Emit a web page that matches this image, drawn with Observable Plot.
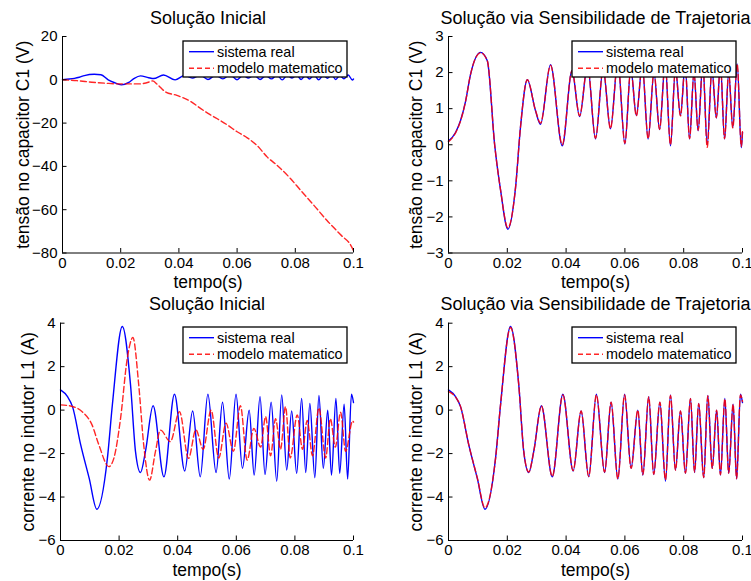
<!DOCTYPE html>
<html>
<head>
<meta charset="utf-8">
<script src="https://cdn.jsdelivr.net/npm/d3@7"></script>
<script src="https://cdn.jsdelivr.net/npm/@observablehq/plot@0.6"></script>
<style>
  html, body { margin: 0; padding: 0; background: white; }
  #fig { position: relative; width: 751px; height: 581px; background: white; overflow: hidden;
         font-family: "Liberation Sans", Arial, Helvetica, sans-serif; }
  #fig svg { position: absolute; }
</style>
</head>
<body>
<div id="fig"></div>
<script>
// ---------------- data ----------------
const xTicks = [0, 0.02, 0.04, 0.06, 0.08, 0.1];
const yTicksC1Ini = [20, 0, -20, -40, -60, -80];
const yTicksC1Traj = [3, 2, 1, 0, -1, -2, -3];
const yTicksL1 = [4, 2, 0, -2, -4, -6];

const titles = ["Solução Inicial", "Solução via Sensibilidade de Trajetoria", "Solução Inicial", "Solução via Sensibilidade de Trajetoria"];
const yLabels = ["tensão no capacitor C1 (V)", "tensão no capacitor C1 (V)", "corrente no indutor L1 (A)", "corrente no indutor L1 (A)"];
const xLabel = "tempo(s)";
const legendLabels = ["sistema real", "modelo matematico"];

// sistema real - tensão C1
const realC1_t = [0, 0.0024, 0.0041, 0.0058, 0.0075, 0.0109, 0.0132, 0.0157, 0.0177, 0.0202, 0.0228, 0.0245, 0.0268, 0.0296, 0.0313, 0.0347, 0.0387, 0.042, 0.0446, 0.0473, 0.05, 0.0526, 0.0551, 0.0576, 0.06, 0.062, 0.0639, 0.0659, 0.0679, 0.0699, 0.0718, 0.0737, 0.0755, 0.0772, 0.0789, 0.0805, 0.082, 0.0835, 0.0849, 0.0865, 0.088, 0.0896, 0.0911, 0.0925, 0.0939, 0.0953, 0.0967, 0.0982, 0.0996, 0.1];
const realC1_v = [0.1, 0.34, 0.67, 1.2, 1.95, 2.56, 2.33, 0, -1.25, -2.34, -1.19, 0.5, 1.8, 0.94, 0.57, 2.22, -0.03, 2.05, 0.78, 2.2, 0.16, 2.1, 0.44, 2.3, 0.02, 2.1, 0.81, 2.2, 0.16, 2.0, 0.42, 2.25, -0.03, 2.1, 0.81, 2.2, 0.16, 2.0, 0.39, 2.25, 0.0, 2.1, 0.74, 2.2, 0.16, 2.0, 0.48, 2.24, -0.08, 0.35];
// modelo (trajetória) - tensão C1
const modeloTrajC1_v = [0.08, 0.33, 0.66, 1.2, 1.95, 2.55, 2.33, 0, -1.25, -2.3, -1.19, 0.5, 1.8, 0.95, 0.6, 2.2, 0.0, 2.05, 0.8, 2.2, 0.18, 2.1, 0.45, 2.3, 0.04, 2.1, 0.8, 2.2, 0.17, 2.0, 0.43, 2.25, 0.0, 2.1, 0.8, 2.2, 0.17, 2.0, 0.4, 2.25, -0.07, 2.1, 0.75, 2.2, 0.17, 2.0, 0.47, 2.24, -0.05, 0.4];
// modelo inicial - tensão C1
const modeloIniC1_t = [0, 0.005, 0.0101, 0.015, 0.0198, 0.0263, 0.0303, 0.031, 0.0325, 0.0353, 0.0393, 0.0444, 0.0474, 0.05, 0.0532, 0.0566, 0.06, 0.0635, 0.0669, 0.0703, 0.0738, 0.0784, 0.0818, 0.0864, 0.0909, 0.0955, 0.0995, 0.1];
const modeloIniC1_v = [0, -0.4, -1.1, -1.6, -1.9, -1.9, -0.8, -0.5, -2.0, -5.5, -7.2, -10.3, -13.2, -15.5, -18, -20.8, -24, -26.8, -30.4, -35.6, -39.6, -45.7, -51, -58, -65, -71.5, -77.5, -79];

// sistema real - corrente L1
const realL1_t = [0, 0.0024, 0.0041, 0.0069, 0.0098, 0.0124, 0.016, 0.0177, 0.0211, 0.0239, 0.0256, 0.0273, 0.029, 0.0316, 0.0353, 0.0389, 0.0424, 0.0451, 0.0477, 0.0503, 0.0531, 0.0553, 0.0576, 0.0599, 0.0621, 0.0644, 0.0661, 0.0681, 0.0698, 0.0719, 0.0738, 0.0755, 0.0772, 0.0789, 0.0806, 0.0823, 0.0837, 0.0851, 0.0868, 0.0882, 0.0897, 0.0912, 0.0925, 0.094, 0.0953, 0.0968, 0.098, 0.0993, 0.1];
const realL1_v = [0.93, 0.62, 0.16, -1.6, -3.14, -4.56, -2.22, 0.24, 3.85, 1.16, -1.91, -2.87, -1.9, 0.2, -3.07, 0.73, -2.8, -0.04, -3.07, 0.73, -2.87, 0.36, -3.17, 0.73, -2.68, 0.0, -2.99, 0.62, -2.96, 0.36, -3.27, 0.7, -2.76, -0.04, -2.91, 0.54, -2.87, 0.31, -3.11, 0.67, -2.68, 0.0, -2.99, 0.54, -2.91, 0.27, -3.17, 0.73, 0.35];
// modelo (trajetória) - corrente L1
const modeloTrajL1_v = [0.85, 0.6, 0.16, -1.6, -3.12, -4.5, -2.22, 0.24, 3.8, 1.16, -1.9, -2.85, -1.9, 0.18, -3.05, 0.7, -2.78, -0.04, -3.05, 0.7, -2.85, 0.36, -3.15, 0.7, -2.68, 0.0, -2.97, 0.6, -2.95, 0.36, -3.2, 0.68, -2.76, -0.04, -2.9, 0.52, -2.85, 0.3, -3.1, 0.65, -2.68, 0.0, -2.97, 0.52, -2.9, 0.27, -3.15, 0.7, 0.4];
// modelo inicial - corrente L1
const modeloIniL1_t = [0, 0.0034, 0.0074, 0.0108, 0.0131, 0.0165, 0.0182, 0.0205, 0.0228, 0.0247, 0.0267, 0.0284, 0.0304, 0.0324, 0.0341, 0.0375, 0.0406, 0.0437, 0.0462, 0.0487, 0.0514, 0.054, 0.0565, 0.059, 0.0614, 0.0637, 0.066, 0.0683, 0.07, 0.0717, 0.0734, 0.0751, 0.0768, 0.0784, 0.0808, 0.0826, 0.0842, 0.086, 0.0882, 0.0905, 0.0921, 0.0938, 0.0956, 0.0973, 0.0997, 0.1];
const modeloIniL1_v = [0.24, 0.19, -0.07, -0.69, -1.6, -2.6, -2.22, -0.38, 2.39, 3.34, 1.16, -1.6, -3.22, -1.91, -0.92, -1.45, -0.07, -2.22, -0.9, -1.8, 0.0, -2.2, -0.6, -1.9, 0.2, -2.3, -0.84, -1.7, -0.3, -2.1, -0.4, -1.8, 0.16, -2.2, -0.22, -1.8, -0.47, -2.1, 0.1, -2.2, -0.4, -1.7, -0.1, -1.9, -0.5, -0.55];

// ---------------- helpers ----------------
const zip = (t, v) => t.map((d, i) => ({t: d, v: v[i]}));
const fmtY = d => d < 0 ? "\u2212" + Math.abs(d) : String(d);
const fmtX = d => String(d);

const panels = [
  {left: 0,   top: 0,   w: 375, h: 290, ml: 62, mr: 22, mt: 36, mb: 37.5, yDomain: [-80, 20], yTicks: yTicksC1Ini,
   real: zip(realC1_t, realC1_v), model: zip(modeloIniC1_t, modeloIniC1_v), yLabOff: 33.5, titleDy: -13, legend: [183, 41]},
  {left: 375, top: 0,   w: 376, h: 290, ml: 73, mr: 9,  mt: 36, mb: 37.5, yDomain: [-3, 3], yTicks: yTicksC1Traj,
   real: zip(realC1_t, realC1_v), model: zip(realC1_t, modeloTrajC1_v), yLabOff: 26.5, titleDy: -13, legend: [572, 41]},
  {left: 0,   top: 290, w: 375, h: 291, ml: 60, mr: 22, mt: 32.7, mb: 41, yDomain: [-6, 4], yTicks: yTicksL1,
   real: zip(realL1_t, realL1_v), model: zip(modeloIniL1_t, modeloIniL1_v), yLabOff: 26.5, titleDy: -13.4, legend: [183, 327]},
  {left: 375, top: 290, w: 376, h: 291, ml: 73, mr: 9,  mt: 32.7, mb: 41, yDomain: [-6, 4], yTicks: yTicksL1,
   real: zip(realL1_t, realL1_v), model: zip(realL1_t, modeloTrajL1_v), yLabOff: 26.5, titleDy: -13.4, legend: [572, 327]}
];

const fig = document.getElementById("fig");
const FONT = "'Liberation Sans', Arial, Helvetica, sans-serif";

panels.forEach((p, i) => {
  const iw = p.w - p.ml - p.mr;
  const ih = p.h - p.mt - p.mb;
  const chart = Plot.plot({
    width: p.w, height: p.h,
    marginLeft: p.ml, marginRight: p.mr, marginTop: p.mt, marginBottom: p.mb,
    style: {fontFamily: FONT, fontSize: "15px", color: "black", background: "transparent", overflow: "visible"},
    x: {domain: [0, 0.1], label: null},
    y: {domain: p.yDomain, label: null},
    marks: [
      Plot.line(p.real, {x: "t", y: "v", stroke: "#0000ff", strokeWidth: 1.4, curve: "monotone-x"}),
      Plot.line(p.model, {x: "t", y: "v", stroke: "#ff0000", strokeWidth: 1.4, strokeOpacity: 0.85, strokeDasharray: "6,3", curve: "monotone-x"}),
      Plot.ruleX([0], {stroke: "black", strokeWidth: 1}),
      Plot.ruleY([p.yDomain[0]], {stroke: "black", strokeWidth: 1}),
      Plot.tickY(p.yTicks, {y: d => d, insetRight: iw - 4.5, stroke: "black"}),
      Plot.tickX(xTicks, {x: d => d, insetTop: ih - 4.5, stroke: "black"}),
      Plot.axisY({ticks: p.yTicks, tickFormat: fmtY, tickSize: 0, tickPadding: 5, fontSize: 15, label: null}),
      Plot.axisX({ticks: xTicks, tickFormat: fmtX, tickSize: 0, tickPadding: 4, fontSize: 15, label: null}),
      Plot.text([titles[i]], {text: d => d, frameAnchor: "top", dy: p.titleDy, lineAnchor: "bottom", fontSize: 18, fill: "black"}),
      Plot.text([xLabel], {text: d => d, frameAnchor: "bottom", dy: 35, lineAnchor: "bottom", fontSize: 17.5, fill: "black"}),
      Plot.text([yLabels[i]], {text: d => d, frameAnchor: "left", rotate: -90, dx: -p.yLabOff, textAnchor: "middle", lineAnchor: "bottom", fontSize: 17.5, fill: "black"})
    ]
  });
  chart.style.left = p.left + "px";
  chart.style.top = p.top + "px";
  fig.appendChild(chart);
});

// legends
const NS = "http://www.w3.org/2000/svg";
panels.forEach(p => {
  const [lx, ly] = p.legend;
  const W = 164, H = 36;
  const svg = document.createElementNS(NS, "svg");
  svg.setAttribute("width", W + 2);
  svg.setAttribute("height", H + 2);
  svg.style.left = (lx - 1) + "px";
  svg.style.top = (ly - 1) + "px";
  const rect = document.createElementNS(NS, "rect");
  rect.setAttribute("x", 1); rect.setAttribute("y", 1);
  rect.setAttribute("width", W); rect.setAttribute("height", H);
  rect.setAttribute("fill", "white"); rect.setAttribute("stroke", "black"); rect.setAttribute("stroke-width", 1.3);
  svg.appendChild(rect);
  const rows = [{y: 11.7, color: "#0000ff", dash: null}, {y: 28.3, color: "#ff0000", dash: "5,3"}];
  rows.forEach((r, k) => {
    const ln = document.createElementNS(NS, "line");
    ln.setAttribute("x1", 7); ln.setAttribute("x2", 32);
    ln.setAttribute("y1", r.y); ln.setAttribute("y2", r.y);
    ln.setAttribute("stroke", r.color); ln.setAttribute("stroke-width", 1.4);
    if (r.dash) { ln.setAttribute("stroke-dasharray", r.dash); ln.setAttribute("stroke-opacity", 0.85); }
    svg.appendChild(ln);
    const tx = document.createElementNS(NS, "text");
    tx.setAttribute("x", 35); tx.setAttribute("y", r.y + 5.1);
    tx.setAttribute("font-size", 14.4); tx.setAttribute("font-family", FONT); tx.setAttribute("fill", "black");
    tx.textContent = legendLabels[k];
    svg.appendChild(tx);
  });
  fig.appendChild(svg);
});
</script>
</body>
</html>
